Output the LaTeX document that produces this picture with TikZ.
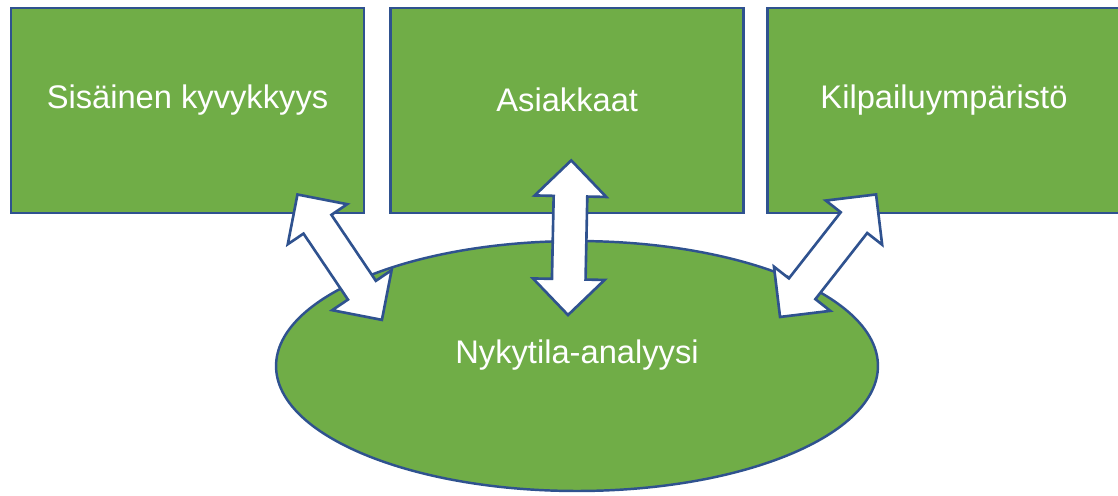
\documentclass[tikz,border=0pt]{standalone}
\usepackage{fontspec}
\setmainfont{Liberation Sans}
\usetikzlibrary{positioning,calc,shapes.geometric,shapes.arrows}
\definecolor{leafgreen}{HTML}{70AD47}
\definecolor{edgeblue}{HTML}{2F528F}

\begin{document}
\begin{tikzpicture}[x=0.02cm, y=-0.02cm,
  box/.style={rectangle, draw=edgeblue, fill=leafgreen, line width=1.6pt, minimum width=7.06cm, minimum height=4.1cm, inner sep=0pt},
  oval/.style={ellipse, draw=edgeblue, fill=leafgreen, line width=1.4pt, minimum width=12.04cm, minimum height=5cm, inner sep=0pt},
  caption/.style={text=white, font=\fontsize{18.6}{22}\selectfont, yshift=0.21cm},
  twoway/.style={double arrow, draw=edgeblue, fill=white, line width=1.5pt, inner xsep=0pt, inner ysep=0.31cm, double arrow head extend=0.38cm, double arrow tip angle=90}]
  \useasboundingbox (0,0) rectangle (1118,495);

  \node [box] (sis) at (187.5,110.5) {};
  \node [box, right=0.48cm of sis] (asi) {};
  \node [box, right=0.42cm of asi] (kil) {};
  \node [oval] (nyk) at (577,366) {};

  \node [caption] (sistxt) at (sis.center) {Sisäinen kyvykkyys};
  \node [caption] (asitxt) at (asi.center) {Asiakkaat};
  \node [caption] (kiltxt) at (kil.center) {Kilpailuympäristö};
  \node [caption] (nyktxt) at (nyk.center) {Nykytila-analyysi};

  % arrow ends
  \coordinate (s1) at ([shift={(-68,-20)}]sis.south east);
  \coordinate (s2) at ([shift={(-195,-46)}]nyk.center);
  \coordinate (a1) at ([shift={(4,-54)}]asi.south);
  \coordinate (a2) at ([shift={(-9,-51)}]nyk.center);
  \coordinate (k1) at ([shift={(110,-20)}]kil.south west);
  \coordinate (k2) at ([shift={(203,-49)}]nyk.center);

  \path let \p1=($(s2)-(s1)$), \n1={atan2(\y1,\x1)}, \n2={veclen(\x1,\y1)} in
    node [twoway, minimum height=\n2, rotate=\n1] (sisnyk) at ($(s1)!0.5!(s2)$) {};
  \path let \p1=($(a2)-(a1)$), \n1={atan2(\y1,\x1)}, \n2={veclen(\x1,\y1)} in
    node [twoway, minimum height=\n2, rotate=\n1] (asinyk) at ($(a1)!0.5!(a2)$) {};
  \path let \p1=($(k2)-(k1)$), \n1={atan2(\y1,\x1)}, \n2={veclen(\x1,\y1)} in
    node [twoway, minimum height=\n2, rotate=\n1] (kilnyk) at ($(k1)!0.5!(k2)$) {};
\end{tikzpicture}
\end{document}
